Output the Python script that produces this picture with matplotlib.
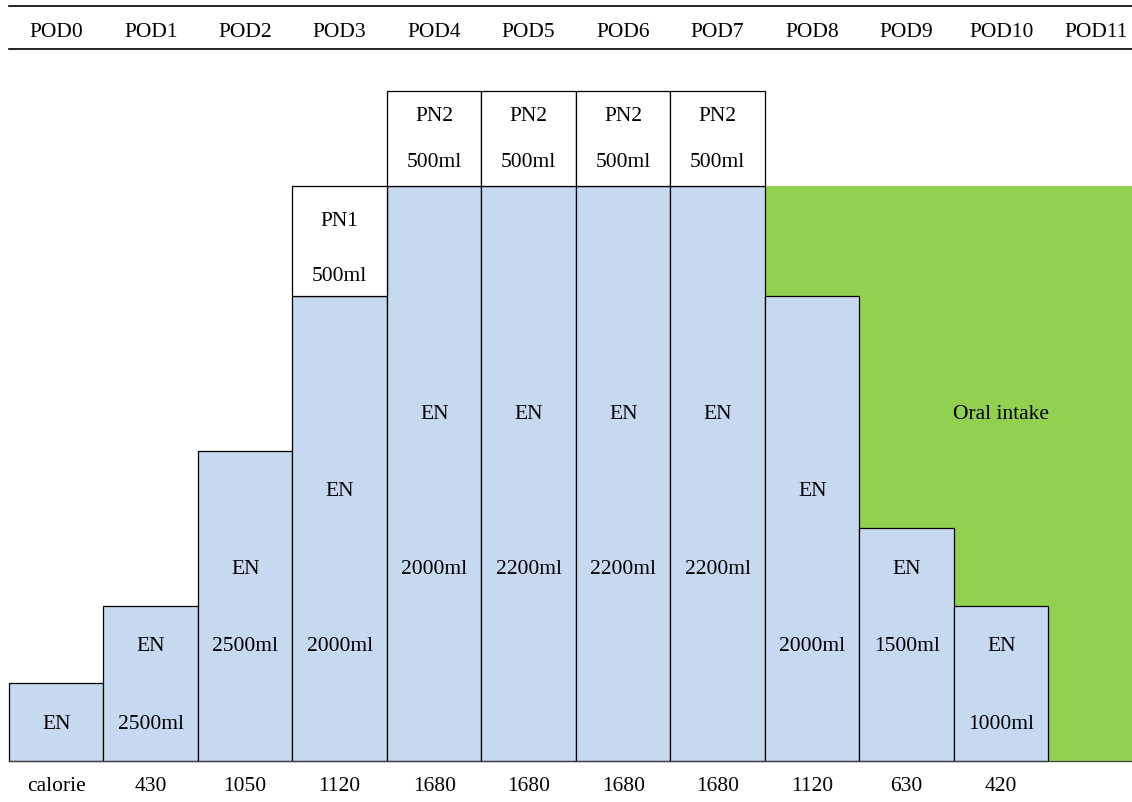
import matplotlib.pyplot as plt
import numpy as np

plt.rcParams['font.family'] = ['Liberation Serif', 'DejaVu Serif']

# days and bar levels (in text-row units, baseline = 0)
days = ['POD0', 'POD1', 'POD2', 'POD3', 'POD4', 'POD5', 'POD6', 'POD7',
        'POD8', 'POD9', 'POD10', 'POD11']
en_top = [1, 2, 4, 6, 7.42, 7.42, 7.42, 7.42, 6, 3, 2]
en_label_row = [0, 1, 2, 3, 4, 4, 4, 4, 3, 2, 1]
en_volume = ['', '2500ml', '2500ml', '2000ml', '2000ml', '2200ml', '2200ml',
             '2200ml', '2000ml', '1500ml', '1000ml']
en_volume_row = [0, 0, 1, 1, 2, 2, 2, 2, 1, 1, 0]

pn_cols = [3, 4, 5, 6, 7]
pn_names = ['PN1', 'PN2', 'PN2', 'PN2', 'PN2']
pn_volume = ['500ml', '500ml', '500ml', '500ml', '500ml']
pn_bottom = [6, 7.42, 7.42, 7.42, 7.42]
pn_top = [7.42, 8.65, 8.65, 8.65, 8.65]

oral_start = 8
oral_top = 7.42
calorie = ['calorie', '430', '1050', '1120', '1680', '1680', '1680', '1680',
           '1120', '630', '420', '']

blue = '#C6D9F1'
green = '#92D050'
fs = 15.5

fig = plt.figure(figsize=(11.32, 8.03), dpi=100)
ax = fig.add_axes([0, 0, 1, 1])
ax.set_xlim(-0.595, 11.384)
ax.set_ylim(-0.529, 9.832)
ax.axis('off')

# oral intake background
ax.bar(oral_start - 0.5, oral_top, width=20, align='edge', color=green,
       edgecolor='none', zorder=1)
ax.text(10, 4.49, 'Oral intake', ha='center', va='center', fontsize=fs, zorder=5)

# EN bars
x = np.arange(len(en_top))
ax.bar(x, en_top, width=1, color=blue, edgecolor='black', linewidth=0.9, zorder=2)
for i in range(len(en_top)):
    ax.text(i, en_label_row[i] + 0.49, 'EN', ha='center', va='center', fontsize=fs, zorder=5)
    if en_volume[i]:
        ax.text(i, en_volume_row[i] + 0.49, en_volume[i], ha='center', va='center',
                fontsize=fs, zorder=5)

# PN boxes
pn_h = np.array(pn_top) - np.array(pn_bottom)
ax.bar(pn_cols, pn_h, bottom=pn_bottom, width=1, color='white', edgecolor='black',
       linewidth=0.9, zorder=2)
for c, n, v, b, t in zip(pn_cols, pn_names, pn_volume, pn_bottom, pn_top):
    if n == 'PN1':
        mid, off = 6.62, 0.35
    else:
        mid, off = (b + t) / 2, 0.3
    ax.text(c, mid + off, n, ha='center', va='center', fontsize=fs, zorder=5)
    ax.text(c, mid - off, v, ha='center', va='center', fontsize=fs, zorder=5)

# baseline
ax.plot([-0.5, 11.384], [0, 0], color='#404040', linewidth=0.9, zorder=3)

# header
ax.plot([-0.5, 11.384], [9.74, 9.74], color='black', linewidth=1.2)
ax.plot([-0.5, 11.384], [9.185, 9.185], color='black', linewidth=1.2)
for i, d in enumerate(days):
    ax.text(i, 9.41, d, ha='center', va='center', fontsize=fs)

# calorie row
for i, c in enumerate(calorie):
    ax.text(i, -0.31, c, ha='center', va='center', fontsize=fs)

fig.savefig('out.png', dpi=100)
